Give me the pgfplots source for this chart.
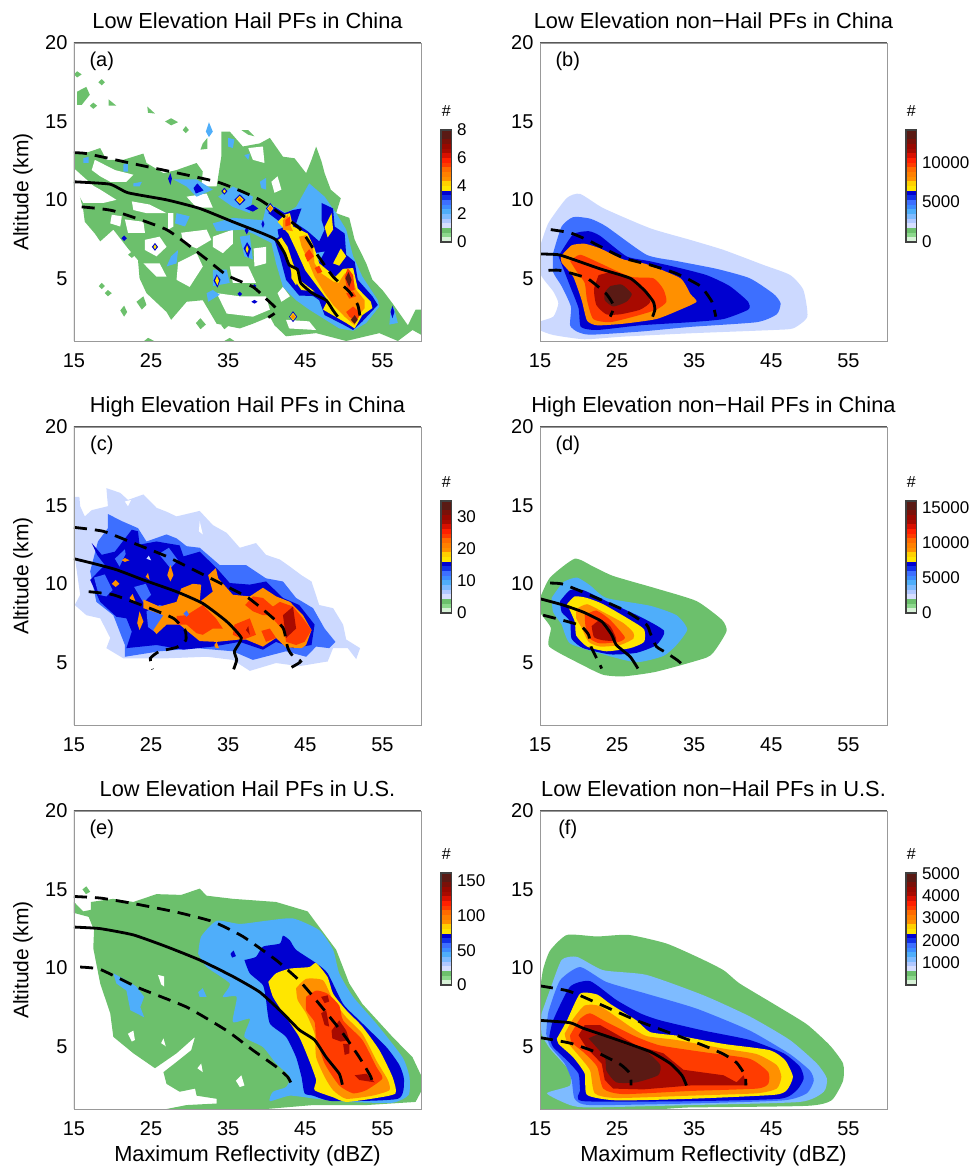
\documentclass[border=0pt]{standalone}
\usepackage{pgfplots}
\pgfplotsset{compat=1.18}
\usepackage{fontspec}
\setmainfont{Liberation Sans}
\definecolor{lgreen}{HTML}{6CC06C}
\definecolor{lpale}{HTML}{CCD9FF}
\definecolor{lsky}{HTML}{4FAEFA}
\definecolor{lsky2}{HTML}{7EBBFF}
\definecolor{lroyal}{HTML}{3D6FFF}
\definecolor{ldark}{HTML}{0000D0}
\definecolor{lyellow}{HTML}{FFE600}
\definecolor{lorange}{HTML}{FF9000}
\definecolor{lred}{HTML}{FF3C00}
\definecolor{ldred}{HTML}{A80A00}
\definecolor{lbrown}{HTML}{5A1A14}
\definecolor{cb1}{HTML}{D8F2D8}\definecolor{cb2}{HTML}{8CD88C}\definecolor{cb3}{HTML}{6CC06C}
\definecolor{cb4}{HTML}{D6DEFF}\definecolor{cb5}{HTML}{B0C8FF}\definecolor{cb6}{HTML}{7EBBFF}
\definecolor{cb7}{HTML}{4FAEFA}\definecolor{cb8}{HTML}{3D8CFF}\definecolor{cb9}{HTML}{3D6FFF}
\definecolor{cb10}{HTML}{1030E8}\definecolor{cb11}{HTML}{0000D0}\definecolor{cb12}{HTML}{FFE600}
\definecolor{cb13}{HTML}{FFD000}\definecolor{cb14}{HTML}{FF9000}\definecolor{cb15}{HTML}{FF8000}
\definecolor{cb16}{HTML}{FF6A00}\definecolor{cb17}{HTML}{FF3C00}\definecolor{cb18}{HTML}{FF2000}
\definecolor{cb19}{HTML}{D81000}\definecolor{cb20}{HTML}{A80A00}\definecolor{cb21}{HTML}{980800}
\definecolor{cb22}{HTML}{7A1008}\definecolor{cb23}{HTML}{5A1A14}\definecolor{cb24}{HTML}{5A1A14}
\newcommand\poly[2]{\addplot[fill=#1,draw=none,forget plot] coordinates {#2};}
\newcommand\spoly[2]{\addplot[fill=#1,draw=none,smooth,tension=0.35,forget plot] coordinates {#2};}
\newcommand\msolid[1]{\addplot[black,line width=2.8pt,smooth,tension=0.3,forget plot] coordinates {#1};}
\newcommand\mdash[1]{\addplot[black,line width=2.8pt,smooth,tension=0.3,dash pattern=on 13pt off 8pt,forget plot] coordinates {#1};}
\newcommand\frameit[1]{\draw[line width=1.6pt,draw=black!65] (rel axis cs:0,0)--(rel axis cs:0,1)--(rel axis cs:1,1);
  \node[font=\fontsize{20}{20}\selectfont,anchor=center] at (rel axis cs:0.08,0.94) {(#1)};}
\pgfplotsset{
  panel/.style={scale only axis,width=347pt,height=298pt,xmin=15,xmax=60,ymin=1,ymax=20,
    xtick={15,25,35,45,55},ytick={5,10,15,20},major tick length=0pt,axis on top,
    axis line style={draw=black!40,line width=0.8pt},
    /pgf/number format/assume math mode=true,
    tick label style={font=\fontsize{20}{20}\selectfont},
    xticklabel style={yshift=-9pt},yticklabel style={xshift=-3pt},
    title style={at={(0.5,1)},anchor=base,yshift=8.5pt,font=\fontsize{21.8}{22}\selectfont},
    ylabel style={at={(axis description cs:-0.147,0.5)},anchor=center,font=\fontsize{21}{21}\selectfont},
    xlabel style={at={(axis description cs:0.5,-0.158)},anchor=center,font=\fontsize{21.8}{22}\selectfont}},
  cbar/.style={scale only axis,width=10.5pt,height=112pt,xmin=0,xmax=1,ymin=0,xtick=\empty,
    yticklabel pos=right,major tick length=0pt,axis on top,scaled y ticks=false,
    axis line style={draw=black!75,line width=1.3pt},
    /pgf/number format/assume math mode=true,/pgf/number format/1000 sep={},
    tick label style={font=\fontsize{17}{17}\selectfont},yticklabel style={xshift=2pt},
    title style={at={(0.5,1)},anchor=center,yshift=13pt,font=\fontsize{16}{16}\selectfont},title={\#}}}
\newcommand\cbstripes[1]{\pgfplotsinvokeforeach{1,...,24}{\addplot[fill=cb##1,draw=none,forget plot] coordinates {(0,{(##1-1)*#1/24}) (1,{(##1-1)*#1/24}) (1,{##1*#1/24}) (0,{##1*#1/24})} --cycle;}}
\begin{document}
\begin{tikzpicture}
\useasboundingbox (0,0) rectangle (973pt,1167pt);
% ---------------- (a)
\begin{axis}[panel,at={(74pt,826pt)},title={Low Elevation Hail PFs in China},ylabel={Altitude (km)}]
\poly{lgreen}{(15,13.0)(16.6,13.0)(18.4,13.3)(19.2,12.55)(21.4,12.55)(24,12.95)(24.4,12.35)(26.6,11.7)(28.3,11.9)(30.9,12.35)(31.7,11.8)(31.5,10.85)(33.5,10.85)(34.1,12.75)(34.1,14.35)(35.2,14.35)(36.9,13.4)(39.1,13.6)(40.4,13.95)(42.1,12.75)(43.6,12.65)(45.1,11.7)(45.8,12.55)(46.4,13.4)(47.1,12.45)(47.5,11.7)(48.3,10.65)(49.6,10.1)(49,9.15)(50.7,8.85)(51.4,7.45)(52.9,5.95)(53.7,4.9)(55,4.25)(56.3,3.4)(58.3,2)(59.3,3)(60,3)(60,1.4)(58.9,1.7)(57,1)(54.6,1.5)(50.3,1)(46.4,1.5)(42.5,1.3)(41,2)(40.4,2.55)(38.2,2.1)(36.5,1.8)(33.5,2.1)(31.7,3.6)(29.6,3.5)(27.6,2.35)(27,2.85)(24.4,4.05)(23.5,5)(23.3,6.15)(22,6.9)(20.1,8.1)(18.4,7.35)(17.7,7.85)(16.4,8.6)(16.2,9.35)(15.6,10.55)(15,10.85)}
\poly{lgreen}{(15.4,16.9)(16.6,17.2)(17.05,16.7)(16.0,16.05)(15.4,16.05)}
\poly{lgreen}{(15,18)(15.4,18.2)(16,18)(15.4,17.8)}
\poly{lgreen}{(18.15,17.5)(18.6,17.7)(19,17.5)(18.6,17.3)}
\poly{lgreen}{(17.05,16)(17.5,16.2)(18,16)(17.5,15.8)}
\poly{lgreen}{(19.5,16.4)(20.5,16)(19.5,16)}
\poly{lgreen}{(24.5,15.95)(25.5,15.5)(24.6,15.55)}
\poly{lgreen}{(26.8,15)(27.6,15.2)(28.5,14.95)(27.6,14.75)}
\poly{lgreen}{(29.1,14.45)(29.5,14.7)(29.9,14.45)(29.5,14.25)}
\poly{lgreen}{(31.7,13.6)(32.3,13.95)(32.3,13.25)(31.4,13.2)}
\poly{lgreen}{(36.7,14.45)(37.6,14.45)(38.4,14.05)(37.6,14.15)}
\poly{lgreen}{(30.8,2.15)(31.4,2.45)(32.1,2.05)(31.4,1.75)}
\poly{lgreen}{(34.1,2)(34.5,2.25)(35,1.95)(34.5,1.75)}
\poly{lgreen}{(21,2.95)(21.5,3.25)(21.9,2.85)(21.5,2.55)}
\poly{lgreen}{(23.1,3.5)(24,3.85)(24.4,3.3)(23.8,3)}
\poly{lgreen}{(22,6.5)(22.5,6.7)(23,6.5)(22.5,6.3)}
\poly{lgreen}{(18.2,4.5)(18.6,4.7)(19,4.5)(18.6,4.3)}
\poly{lgreen}{(19,4.05)(19.4,4.25)(19.9,4.05)(19.4,3.85)}
\poly{lgreen}{(24.1,1)(24.6,1.2)(25.4,1)}
\poly{lgreen}{(34.5,1)(35.2,1.2)(35.8,1)}
% holes in the lowest level
\poly{white}{(17.7,12.55)(20.3,11.9)(22.7,11.6)(21.8,11.15)(19.7,11.15)(18.4,11.5)(17.3,11.9)}
\poly{white}{(15,12)(17.5,10.9)(18.4,10.65)(20.5,10)(18.8,9.8)(16.2,9.8)(15,10.85)}
\poly{white}{(22.5,9.9)(24.8,9.7)(27,9.15)(24.4,9.15)(22.7,9.35)}
\poly{white}{(27.2,9.15)(27.9,9.15)(27.9,8.3)(27.2,8.1)}
\poly{white}{(29.6,10.2)(32.2,10.4)(33,9.5)(30.9,9.5)}
\poly{white}{(19.9,9.05)(21.2,8.95)(21,8.3)(19.7,8.5)}
\poly{white}{(21.6,8.75)(24,8.6)(24.2,7.9)(22,7.9)}
\poly{white}{(24.2,7.45)(26.1,7.65)(27,7)(25.7,6.4)(24.2,6.8)}
\poly{white}{(28.9,7.9)(32.2,8.1)(32.8,7.45)(30.9,6.9)(29.2,7.25)}
\poly{white}{(24,5.95)(26.1,5.95)(27,5.1)(25.7,5.1)}
\poly{white}{(28.5,6)(30.9,6.6)(31.7,5.75)(30,4.45)(28.3,4.9)}
\poly{white}{(33,7.65)(35.6,8.1)(35.6,7.2)(34.3,6.6)(33,7)}
\poly{white}{(35.2,5.75)(37.6,5.75)(38.6,4.7)(35.6,4.7)}
\poly{white}{(33.5,4.05)(36.5,3.85)(39.9,3.85)(40.4,3)(38.2,2.55)(34.8,2.75)}
\poly{white}{(38.3,6.9)(39.9,7)(39.9,5.95)(38.4,5.75)}
\poly{white}{(42.1,4.45)(43,3.85)(41.9,3.5)(41.4,4.05)}
\poly{white}{(40.6,11.15)(41.4,11.5)(41.9,10.65)(41,10.45)}
\poly{white}{(45.3,9.45)(45.8,9.75)(46.1,9.15)(45.5,8.95)}
\poly{white}{(37.6,13.3)(39.5,13.4)(39.7,12.35)(38.2,12.55)}
\poly{white}{(42.5,2.35)(45.5,2.25)(46.4,1.7)(42.9,1.8)}
% second level
\poly{lsky}{(40.6,9.7)(42.5,9.15)(43.8,9.55)(45.5,11.05)(47.5,10.2)(49,9.15)(50.3,8.1)(51.2,6.4)(52.4,5.1)(54.4,3.6)(54.6,3.2)(52.9,2.15)(51.2,1.65)(49.4,1.8)(47.3,2.45)(45.5,3)(43.8,3.6)(42.1,4.45)(41.2,5.95)(40.6,7.25)(38.2,7.85)(36.9,8.1)(33.5,8)(33,8.5)(35.6,8.85)(39.5,8.7)(39.9,9.55)}
\poly{lsky}{(28.3,9.15)(30,8.95)(29.4,8.3)(28.1,8.5)}
\poly{lsky}{(27.6,6.4)(28.5,6.8)(28.3,5.95)(27,5.75)}
\poly{lsky}{(35,13.95)(35.8,13.85)(35.6,13.3)(35,13.4)}
\poly{lsky}{(37.1,12.85)(37.8,12.95)(37.6,12.55)}
\poly{lsky}{(16.2,12.65)(16.9,12.75)(16.9,12.35)(16.2,12.35)}
\poly{lsky}{(21.4,12.25)(22,12.35)(22,11.8)(21.4,11.8)}
\poly{lsky}{(22.7,11.05)(23.8,11.15)(23.5,10.85)(22.7,10.85)}
\poly{lsky}{(27.9,11.3)(30.9,11.3)(33,10.65)(30.9,10.2)(29.6,10.85)}
\poly{lsky}{(33.7,10.2)(35.6,10.85)(38.2,10.2)(37.8,9.15)(35.6,9.55)}
\poly{lsky}{(32.2,4.05)(33,4.25)(33.9,3.95)(32.4,3.5)}
\poly{lsky}{(33,5.55)(34.8,5.55)(35.2,4.7)(33,4.5)}
\poly{lsky}{(56.1,3.1)(56.5,3.1)(57,2.15)(55.9,2.05)}
\poly{lsky}{(36.5,7.65)(37.8,7.75)(38.2,6.2)(37.1,6.4)}
\poly{lsky}{(39.1,11.15)(39.9,11.4)(39.9,10.65)(39.3,10.75)}
\poly{lsky}{(32.1,14.35)(32.5,14.95)(33,14.35)(32.5,14)}
% third level
\poly{ldark}{(40.2,9.15)(41,9.55)(42.3,9.15)(43.4,9.35)(44.5,9.45)(43.8,8.5)(45.3,8)(46.8,7.35)(47.5,8.1)(47.1,8.7)(47.1,9.8)(48.6,9.45)(48.8,8.3)(50.1,7.85)(50.3,6.5)(51.4,6.05)(51.8,4.9)(53.7,3.85)(54.4,3.3)(52.4,2.25)(51.2,1.7)(49.9,2.05)(47.5,2.65)(46.8,3.6)(44.9,4.25)(43.4,4.9)(42.5,5.75)(41.7,7.25)(41.4,8.1)(42.5,8.3)}
\poly{ldark}{(41,7.45)(42.3,7.85)(43.6,6.15)(45.1,4.25)(46.8,3.85)(44.2,3.9)(42.5,4.9)(41.7,6.4)}
\poly{lsky}{(46.2,6.6)(47.5,6.7)(46.8,6.05)}
\poly{ldark}{(35.8,10)(36.5,10.35)(37.25,10)(36.5,9.65)}
\poly{ldark}{(39.9,9.45)(40.45,9.8)(41,9.45)(40.45,9.1)}
\poly{ldark}{(42.9,2.55)(43.4,2.9)(43.95,2.55)(43.4,2.2)}
\poly{ldark}{(34.1,10.55)(34.5,10.77)(34.9,10.55)(34.5,10.33)}
\poly{ldark}{(25.1,7)(25.5,7.25)(25.9,7)(25.5,6.75)}
\poly{ldark}{(33.1,4.85)(33.5,5.25)(34,4.9)(33.6,4.4)}
\poly{ldark}{(37,6.9)(37.45,7.3)(37.95,6.9)(37.6,6.3)}
\poly{ldark}{(27.2,11.35)(27.5,11.7)(27.7,11.35)(27.5,10.95)}
\poly{ldark}{(21.15,7.55)(21.5,7.73)(21.85,7.55)(21.5,7.37)}
\poly{ldark}{(30.5,10.75)(31,11.05)(31.8,10.6)(30.8,10.4)}
\poly{ldark}{(37.2,9.45)(38.2,9.7)(38.9,9.45)(38.2,9.25)}
\poly{ldark}{(39.3,8.45)(39.5,8.7)(39.7,8.45)(39.5,8.2)}
\poly{ldark}{(36.2,4)(36.5,4.15)(36.8,4)(36.5,3.85)}
\poly{ldark}{(38,3.5)(38.4,3.62)(38.8,3.5)(38.4,3.38)}
\poly{ldark}{(38.15,4.5)(38.4,4.62)(38.65,4.5)(38.4,4.38)}
\poly{ldark}{(56.05,2.85)(56.3,3.25)(56.55,2.85)(56.3,2.45)}
\poly{ldark}{(37.15,8.05)(37.4,8.3)(37.65,8.05)(37.4,7.8)}
% fourth level and above
\poly{lyellow}{(41.4,8.6)(42.3,9.05)(43,9.15)(43.4,8.3)(45.3,7.85)(46.2,6.9)(46.8,5.95)(48.9,5.1)(49.9,5.6)(51.2,5.65)(51.8,4.35)(53.5,3.5)(53.7,3.1)(52.4,2.65)(51.4,1.8)(50.3,2.15)(47.3,3)(47.9,3.6)(46.6,4.45)(45,5.5)(43.8,6.8)(42.8,7.85)}
\poly{lyellow}{(41.2,7.35)(41.9,7.6)(42.7,7)(43.4,5.95)(44.5,4.8)(46.2,4.15)(44.5,4.25)(43.4,5)(43,5.75)(42.3,6.6)}
\poly{lyellow}{(47.5,8.25)(48.4,9.15)(48.6,8.1)(47.9,7.6)}
\poly{lyellow}{(48.6,5.95)(49.6,6.9)(50.3,6.4)(49.4,5.8)}
\poly{lyellow}{(43.2,5.55)(43.6,5.65)(44.2,5.1)(43.8,4.55)(43.2,5)}
\poly{lyellow}{(36,10)(36.5,10.25)(37,10)(36.5,9.75)}
\poly{lyellow}{(40.05,9.45)(40.45,9.7)(40.85,9.45)(40.45,9.2)}
\poly{lyellow}{(43,2.55)(43.4,2.8)(43.8,2.55)(43.4,2.3)}
\poly{lyellow}{(34.3,10.55)(34.5,10.67)(34.7,10.55)(34.5,10.43)}
\poly{lyellow}{(25.3,7)(25.5,7.15)(25.7,7)(25.5,6.85)}
\poly{lyellow}{(33.3,4.85)(33.55,5.15)(33.8,4.85)(33.6,4.55)}
\poly{lyellow}{(37.25,6.85)(37.45,7.1)(37.65,6.85)(37.45,6.6)}
\poly{lorange}{(36.2,10)(36.5,10.17)(36.8,10)(36.5,9.83)}
\poly{lorange}{(40.15,9.45)(40.45,9.62)(40.75,9.45)(40.45,9.28)}
\poly{lorange}{(43.1,2.55)(43.4,2.72)(43.7,2.55)(43.4,2.38)}
\poly{lorange}{(42.1,8.7)(42.7,9.05)(43.1,8.3)(43.4,8)(42.1,8.1)}
\poly{lorange}{(44.2,7.65)(45.1,7.75)(46,6.9)(46.2,5.95)(47.1,5.3)(48.6,4.8)(49.3,4.7)(50.1,5.3)(50.9,5.4)(51.6,4.25)(52.7,3.6)(52.7,3.1)(51.8,2.55)(51.4,2)(50.1,2.55)(48.6,3.3)(47.5,4.05)(46.2,5.1)(45.1,6.4)(44.5,7.05)}
\poly{lred}{(44.9,6.5)(45.5,6.85)(46.1,6.4)(45.3,6.05)}
\poly{lred}{(50.1,5.1)(50.5,5.65)(51.2,5.2)(51.4,4.25)(50.5,4.15)}
\poly{lred}{(50.3,2.85)(51.2,3.2)(52.2,2.75)(51.6,2.25)(50.7,2.55)}
\poly{lred}{(50.3,4.05)(51.2,4.15)(51.6,3.85)(50.7,3.7)}
\poly{lred}{(46.2,5.65)(46.8,5.8)(47.2,5.4)(46.6,5.3)}
\poly{lred}{(42.4,8.7)(43,8.95)(43.1,8.4)(42.4,8.3)}
\poly{lbrown}{(50.2,5)(50.6,5.4)(51,4.9)(50.7,4.45)}
\poly{lbrown}{(50.9,2.35)(51.4,2.65)(51.8,2.35)(51.4,2.1)}
\msolid{(15,11.15)(19.65,11)(22,10.45)(27,10)(31.3,9.45)(35.6,8.6)(39.5,7.85)(41.2,7.45)(42.3,6.6)(42.9,5.85)(44,5.55)(44.4,4.7)(45.9,4.05)(47.7,3.6)(48.6,2.95)(49.2,2.55)}
\mdash{(15,13)(16.6,12.95)(22.7,12.3)(33.5,11.15)(39.1,10)(44.2,8.2)(46.4,6.6)(48.6,5.1)(50.7,4.15)(51.8,3.3)(52.1,2.55)}
\mdash{(16,9.55)(20.1,9.3)(27,8.1)(31.7,6.4)(34.8,5.2)(38.2,4.45)(39.9,3.7)(41.4,2.95)(40.2,2.5)}
\frameit{a}
\end{axis}
% ---------------- (b)
\begin{axis}[panel,at={(540pt,826pt)},title={Low Elevation non−Hail PFs in China}]
\spoly{lpale}{(15,7.02)(16.08,8.51)(18.46,10.11)(20.19,10.38)(23.21,9.47)(29.27,8.19)(34.46,7.45)(38.78,6.81)(43.97,5.85)(47.43,5.21)(49.15,4.26)(49.67,2.55)(47.86,1.81)(45.26,1.7)(34.46,1.49)(25.81,1.28)(20.76,1.11)(16.73,1.38)(15,1.7)(15,2.23)(16.73,2.55)(17.38,3.4)(16.73,4.15)(15,5.32)(15,7.02)}
\spoly{lroyal}{(16.7,6.6)(17.8,8.3)(19.3,8.9)(21.5,8.8)(23.6,8.3)(28.8,6.5)(32.7,6.1)(37.9,5.6)(42.2,5)(45.3,4)(46.2,3.4)(45.7,2.7)(43.1,2.2)(34.5,1.9)(28,1.6)(21.5,1.4)(19.8,1.6)(18.9,2)(19,3.2)(17.8,4.5)(16.7,5.4)(16.7,6.6)}
\spoly{ldark}{(17.4,6.4)(19.3,7.8)(21.3,8)(22.8,7.7)(26.2,6.4)(29.1,6.1)(32.7,5.7)(36.6,5.2)(39.6,4.5)(42,3.5)(42,3)(38.8,2.4)(34.5,2.2)(28,2)(22.4,1.7)(20.3,1.9)(20,3.1)(18.9,4.5)(17.4,6.4)}
\spoly{lorange}{(17.7,6.4)(19.1,7.1)(20.8,7.2)(22.8,6.9)(25.8,6.2)(28.8,5.9)(33.2,5)(34.5,4)(35.3,3.5)(33.2,3)(30.1,2.4)(25.8,2.1)(22.4,2)(21.1,2.3)(20.4,3.6)(19.3,5.1)(17.8,6)(17.7,6.4)}
\spoly{lred}{(18.9,6.1)(20.2,6.5)(22.6,6)(26.7,5.1)(29.7,5)(31,4.3)(31.4,3.5)(30.1,3)(27.5,2.6)(24.1,2.2)(21.9,2.4)(21.1,3.6)(20.8,4.7)(19.8,5.4)(18.9,6.1)}
\spoly{ldred}{(22.6,5.2)(24.5,5.4)(26.7,5)(28.4,4.3)(29.3,3.5)(28,3)(25.4,2.7)(23.6,2.7)(22.3,3.3)(22,4.3)(22.6,5.2)}
\spoly{lbrown}{(24.1,4.5)(25.6,4.6)(26.9,4)(26.2,3.5)(24.5,3.2)(23.4,3.6)(23.4,4.1)(24.1,4.5)}
\msolid{(15,6.55)(17.4,6.5)(19.3,6.2)(22.8,5.6)(26.7,5)(28.6,4.2)(29.7,3.5)(29.9,3)(29.6,2.55)}
\mdash{(16.4,8.1)(18.9,7.9)(21.1,7.45)(25.8,6.3)(29.3,5.85)(32.7,5.3)(35.8,4.5)(37.3,3.5)(37.8,2.55)}
\mdash{(16.1,5.5)(17.6,5.5)(21.1,5)(23.6,4)(24.6,3.2)(24.1,2.55)}
\frameit{b}
\end{axis}
% ---------------- (c)
\begin{axis}[panel,at={(74pt,442pt)},title={High Elevation Hail PFs in China},ylabel={Altitude (km)}]
\poly{lpale}{(15,15.55)(15.7,15.55)(15.8,14.95)(16.4,14.3)(17.3,14.7)(19.4,14.95)(19.2,16.1)(21,15.8)(22,15.35)(24,15.7)(25.7,14.85)(27,14.6)(28.3,14.3)(31.3,14.65)(33,13.75)(34.8,13.25)(36.5,12.3)(38.6,12.6)(39.9,11.85)(41.7,11.55)(43,11.1)(44.5,10.55)(45.8,10.15)(46.8,8.65)(48.6,8.45)(49.9,7.4)(50.3,6.45)(52.1,5.9)(51.6,5.2)(50.5,5.9)(48.6,5.9)(47.9,5.05)(44.2,4.75)(41.2,4.95)(37.8,4.45)(35.6,5.15)(32.2,5.35)(27,5.25)(21.4,5.25)(19.2,5.9)(19.7,6.55)(18.4,7.8)(16.6,8)(15.1,8.65)(15.8,9.3)(15,12.05)}
\poly{white}{(21.6,15.25)(22.4,15.35)(22,14.95)}
\poly{white}{(31.3,14)(31.7,13.15)(31.2,13.35)}
\poly{lroyal}{(19.4,14.45)(21.2,14)(23.3,13.55)(24.4,12.7)(27,13.15)(28.3,12.9)(29.6,12.4)(31.3,12.3)(33.9,11.2)(37.3,11.2)(39.9,10.35)(42.1,10.15)(43.8,9.1)(46,8.45)(47.5,7.15)(48.9,6.3)(48.1,5.9)(46.4,6)(45.1,5.35)(42.5,5.7)(38.2,5.15)(35.6,5.7)(30.9,5.9)(26.1,5.7)(21.6,5.35)(21.6,6.1)(20.1,8)(17.9,8.85)(17.1,10.8)(18.1,12.7)(19.4,13.55)}
\poly{ldark}{(17.3,12.6)(18.6,11.85)(20.3,12.05)(22.5,13.45)(23.3,13.35)(23.5,12.5)(25.7,12.7)(28.7,12.45)(29.2,11.75)(31.3,12.05)(33.5,11)(35.2,10.05)(37.8,9.95)(39.9,10.15)(42.1,9.1)(44.2,8.65)(46.2,7.4)(45.8,6.1)(43.4,5.9)(41.2,6.3)(39.5,5.8)(36.5,6.3)(33,6)(29.2,5.8)(25.7,6.1)(21.8,5.9)(22.5,6.95)(21.8,7.8)(20.5,7.9)(18.4,8.85)(17.1,10.25)(19,11.2)(18,11.85)}
\poly{lroyal}{(24.4,8.25)(26.1,8.65)(27.4,8.45)(26.6,7.6)(25.7,6.85)(24.6,7.25)}
\poly{lroyal}{(17.6,10.4)(19,10.6)(20,9.6)(19.2,9.2)(18.2,9.3)}
\poly{lroyal}{(20.3,11.6)(21.6,12.2)(21.7,11.9)(20.9,11.1)}
\poly{lroyal}{(26,11.9)(27.3,12.3)(28.5,11.5)(27.5,11)}
\poly{lroyal}{(22.8,9.8)(24.3,10)(25,9.3)(24,8.8)}
\poly{lpale}{(24.4,11.6)(24.7,11.8)(25,11.5)}
\poly{lorange}{(32.4,10.55)(33.4,11)(33.7,10.35)(35.6,9.3)(37.8,9.2)(39.5,9.75)(41.2,9.2)(43,8.85)(44.7,8)(45.8,7.05)(45.1,6.1)(44.5,5.9)(42.5,5.95)(41.2,6.55)(39.5,6)(37.3,6.45)(36.5,6.45)(33.5,6.3)(31.3,6.35)(29.8,6.95)(28.7,7.4)(27,7.4)(25.7,6.8)(25.3,7.05)(26.6,8)(24,8.45)(24,9)(26.1,8.55)(28.3,8.85)(28.9,9.7)(30.4,10)(31.5,9.95)(31.3,8.85)(33,9.5)}
\poly{lorange}{(19.9,10)(20.4,10.25)(20.9,10)(20.4,9.8)}
\poly{lorange}{(27.1,10.55)(27.5,11.2)(27.9,10.55)(27.5,10.15)}
\poly{lorange}{(23.2,7.5)(23.5,8.25)(24,7.6)(23.5,7.05)}
\poly{lorange}{(22.2,9.1)(22.6,9.35)(23,8.85)(22.6,8.85)}
\poly{lorange}{(21.2,11.5)(21.6,11.65)(22.2,11.5)(21.6,11.4)}
\poly{lorange}{(33.2,6.1)(33.5,6.3)(33.8,5.9)(33.4,5.9)}
\poly{lorange}{(24.3,10.45)(24.6,10.7)(24.8,10.25)}
\poly{lred}{(37.2,8.65)(38.2,9.2)(39.5,9.1)(40.8,8.55)(41.7,8.85)(43.4,8.55)(44.7,7.8)(45.8,7.05)(44.9,6.3)(43.8,6.1)(42.5,6.3)(42.3,6.95)(40.4,8)(39.5,8)(38.2,8.25)}
\poly{lred}{(28.3,7.95)(29.6,8)(31.7,8.65)(33.4,7.8)(34.3,7.15)(33,7.15)(31.7,6.75)(30.9,6.85)(29.6,7.4)(28.3,7.4)}
\poly{lred}{(35.8,7.4)(37.8,7.8)(38.6,6.75)(37,6.45)(35.6,6.75)}
\poly{lred}{(39.3,7)(40.4,7.15)(41.2,6.55)(39.9,6.3)}
\poly{ldred}{(42.1,8)(43.4,8.55)(43.8,7.15)(42.5,6.55)}
\poly{ldred}{(37.3,7.05)(37.6,7.3)(37.8,6.75)}
\poly{lroyal}{(29.2,8.1)(29.6,8.3)(29.9,8.05)(29.6,7.9)}
\msolid{(15,11.6)(17.5,11.3)(20.5,10.9)(24,10.25)(28.3,9.5)(31.7,8.75)(34.8,7.6)(36.7,6.55)(35.8,5.7)(36.1,5.15)(35.7,4.55)}
\mdash{(15,13.6)(18.8,13.35)(22.7,12.6)(27,11.75)(31.3,10.7)(37.3,9.2)(39.9,8.2)(42.1,7.2)(42.7,5.95)(43.2,5.5)(44.4,5.05)(43.1,4.65)}
\mdash{(16.9,9.5)(20.1,9.3)(24.8,8.45)(27.9,7.8)(29.4,7.05)(29.5,6.4)(28.3,5.95)(26.1,5.7)(24.9,5.25)(25.2,4.55)}
\frameit{c}
\end{axis}
% ---------------- (d)
\begin{axis}[panel,at={(540pt,442pt)},title={High Elevation non−Hail PFs in China}]
\spoly{lgreen}{(15,9.1)(16.3,10.4)(19.5,11.6)(21.9,11.1)(24.5,10.5)(30.1,9.7)(35.3,8.9)(38.6,7.7)(39.2,7)(37.9,5.9)(36.6,5.3)(30.1,4.4)(25.8,4.1)(23.2,4.2)(20.6,4.8)(16.2,6)(16.4,7.2)(15,8.2)(15,9.1)}
\spoly{lsky}{(16.5,9.1)(18,10.1)(19.8,10.4)(21.5,9.9)(23.6,9.1)(29.3,8.6)(32.7,8)(34.1,7.1)(32.7,6.1)(31,5.4)(27.5,5)(23.2,5.5)(18.9,6.2)(17.8,7.4)(16.7,8.2)(16.5,9.1)}
\spoly{ldark}{(17.6,8.9)(18.9,9.6)(20.6,9.6)(23.6,8.9)(28,7.9)(31.1,7)(30.1,6.1)(27.5,5.6)(24.1,5.5)(20.6,5.9)(19.1,6.5)(18.9,7.6)(17.8,8.2)(17.6,8.9)}
\spoly{lyellow}{(18.5,8.7)(19.5,9.2)(21.1,9.1)(23.2,8.7)(26.7,7.7)(28.5,7.1)(28.5,6.3)(26.7,5.9)(23.6,5.7)(21.1,6)(19.7,6.7)(19.5,7.6)(18.5,8.7)}
\spoly{lorange}{(19.7,8.4)(21.1,8.7)(23.2,8.2)(25.8,7.5)(27.1,6.9)(27.1,6.5)(25.4,6.1)(22.8,6)(21.3,6.3)(20.4,7.2)(19.7,7.8)(19.7,8.4)}
\spoly{lred}{(20.8,8)(22.3,8.3)(24.1,7.7)(26,6.6)(25.2,6.3)(22.8,6.2)(21.5,6.5)(20.9,7.3)(20.8,8)}
\spoly{ldred}{(21.7,7.3)(22.8,7.7)(24.1,7.3)(24.9,6.4)(23.2,6.4)(22,6.6)(21.7,7.3)}
\msolid{(15,9.05)(18,8.65)(20.6,8.2)(23,7.6)(24.3,6.75)(24.9,6.1)(26.7,5.35)(27.7,4.6)}
\mdash{(16.3,10.05)(17.8,10)(20.2,9.55)(25.8,8.35)(28.8,7.4)(29.3,6.85)(30.1,6)(31.4,5.6)(32.9,5.1)(34,4.6)}
\mdash{(15.4,8)(17,7.8)(20.2,7.35)(21.3,6.75)(21.6,6)(22.4,5.2)(23,4.6)}
\frameit{d}
\end{axis}
% ---------------- (e)
\begin{axis}[panel,at={(74pt,58pt)},title={Low Elevation Hail PFs in U.S.},ylabel={Altitude (km)},xlabel={Maximum Reflectivity (dBZ)}]
\poly{lgreen}{(15,14.2)(16.2,13.6)(17.2,13.7)(17.2,14.2)(20.1,14.4)(22.7,14.2)(25.7,14.7)(28.9,14.65)(31.3,15.05)(32.2,14.6)(35.6,14.4)(41.2,14.2)(45.3,13.6)(49,11.15)(50.7,9)(52.4,7.7)(56.3,5.6)(58.9,4.3)(60,3.15)(60,2.1)(59.3,1.45)(52.9,1.25)(46,1.25)(39.9,1)(27,1)(29.6,1.25)(33.5,1.35)(33.5,1.65)(30.9,1.85)(30.7,2.3)(28.7,2.1)(27,2.6)(26.6,3.35)(28.3,4)(30.2,4.75)(30.7,5.6)(28.3,4.55)(25.5,3.6)(22.7,4.55)(20.1,5.6)(19.7,7.1)(18.4,9)(17.5,11.25)(17.6,12.4)(16.9,13.25)(15,13.5)}
\poly{lgreen}{(16.1,15)(16.6,15.2)(17.1,14.85)(16.55,14.7)}
\poly{white}{(25.9,9.55)(26.7,9.45)(26.7,8.8)(26.3,8.95)}
\poly{white}{(22,5.8)(22.7,6)(22.9,5.4)(22.5,5.3)}
\poly{white}{(26.3,5.2)(26.6,5.5)(26.9,5)}
\poly{white}{(36,2.8)(36.7,3.15)(37.1,2.5)(36.5,2.4)}
\poly{white}{(31,3.6)(31.5,3.9)(31.7,3.35)}
\spoly{lsky}{(31.1,10.9)(31.5,12)(33.5,13)(36.5,12.8)(39.9,13)(43.4,13.15)(46.8,12.4)(48.6,11.15)(49.4,9.65)(51.2,8.15)(54.2,6.45)(57.6,4.3)(58.5,3.05)(58.4,1.9)(56.3,1.4)(50.7,1.45)(46.4,1.65)(43,1.85)(40.4,1.5)(40.8,2.1)(42.5,2.4)(43,3.05)(41.2,3.9)(39.5,4.95)(37.1,5.6)(37.8,6.75)(35.6,6.55)(36.1,8.15)(34.3,8.15)(35.2,9)(32.2,10.05)(31.1,10.9)}
\poly{lsky}{(20.1,9.65)(21.8,9.2)(23.1,8.8)(24.1,8.15)(23.6,7.5)(24.1,6.85)(22.3,7.3)(21.8,8.55)(20.5,9)}
\poly{lsky}{(31.1,8.45)(31.7,8.7)(32.2,8.15)(31.3,8.15)}
\poly{ldark}{(35.3,10.9)(35.7,11.1)(36,10.75)(35.5,10.65)}
\spoly{ldark}{(37.1,10.5)(38.6,10.7)(39.5,11.35)(41.7,11.55)(42.1,12.05)(43,11.75)(43.8,11.15)(46.4,10.3)(47.9,9.65)(49.9,7.7)(52,6.65)(55.5,4.95)(57.2,3.8)(57.8,2.85)(57,1.65)(48.6,1.5)(46,1.85)(44.9,2)(44.5,3.05)(43.8,4.3)(42.5,5.6)(40.4,6.45)(39.9,7.95)(39.5,8.9)(37.8,9.65)(37.1,10.5)}
\spoly{lyellow}{(40.2,9.1)(41.2,9.65)(43,9.95)(45.5,10.05)(46.4,10.3)(47.9,9.4)(48.6,8.35)(50.3,7.3)(52.4,6.25)(54.6,4.75)(56.3,3.05)(56.7,2)(54.2,1.7)(50.3,1.45)(48.6,1.75)(46.2,2.2)(46.4,2.85)(45.5,4.1)(44.2,5.6)(42.3,7)(40.8,8.15)(40.2,9.1)}
\spoly{lorange}{(43.8,8.7)(45.1,9.3)(47.3,9.2)(48.6,7.95)(50.3,6.85)(52.4,5.8)(54.2,4.1)(55.7,2.85)(55.9,2.2)(53.7,1.85)(50.3,1.65)(48.6,2.2)(47.5,3.05)(46.4,4.3)(46.2,5.8)(45.1,7.1)(44,7.95)(43.8,8.7)}
\spoly{lred}{(45.1,8.15)(46.4,8.55)(47.9,8.35)(49.4,7.6)(49.9,6.65)(52.4,5.4)(54.2,3.7)(55,2.95)(52.9,2.2)(51.2,2)(49.4,2.5)(47.5,3.9)(46.4,5.6)(46.2,6.55)(45.1,7.3)(45.1,8.15)}
\poly{ldred}{(47.05,8.15)(47.9,8.25)(48.1,7.85)(47.5,7.75)}
\poly{ldred}{(47.05,7.1)(47.7,7.3)(48.1,6.25)(47.5,6.35)}
\poly{ldred}{(48.4,6)(49.4,6.65)(50.3,6)(50.7,5.4)(49.6,5.3)(48.5,5.5)}
\poly{ldred}{(49.9,5.15)(50.7,5.15)(50.7,4.55)(50.1,4.45)}
\poly{ldred}{(51.4,3.15)(52.9,3.25)(54,2.7)(52,2.85)}
\msolid{(15,12.6)(18.4,12.5)(22.7,12.1)(27,11.35)(31.3,10.5)(35.6,9.45)(39.1,8.45)(42.1,7.1)(44.2,6.05)(46.2,5.4)(47.7,4.3)(49.4,3.25)(49.8,2.55)}
\mdash{(15,14.55)(18.4,14.45)(22.7,14.1)(28.3,13.55)(33,12.95)(36.9,12)(41.2,10.5)(44.2,9.2)(46.8,7.7)(49.9,5.8)(52,4.3)(53.5,3.05)(53.7,2.55)}
\mdash{(15.8,10.05)(18.4,9.9)(23.5,8.7)(29.6,7.5)(34.8,6)(38.2,4.75)(41.2,3.7)(42.7,3.05)(43.3,2.5)}
\frameit{e}
\end{axis}
% ---------------- (f)
\begin{axis}[panel,at={(540pt,58pt)},title={Low Elevation non−Hail PFs in U.S.},xlabel={Maximum Reflectivity (dBZ)}]
\spoly{lgreen}{(15,8.6)(15.4,9.9)(16.3,11.1)(18.5,12.1)(22.4,12)(26.5,12.1)(31.4,11.55)(35.8,10.6)(38.8,9.85)(40.9,9)(45.3,7.7)(49.6,6.4)(52.6,5.05)(54.3,3.9)(54.3,2.8)(52.8,1.55)(49.6,1.2)(34.5,1.1)(15,1)(15,8.6)}
\spoly{lsky2}{(15.2,7.1)(16.3,8.6)(17.8,10.5)(19.8,10.7)(23.2,9.85)(28.8,9.55)(36.2,8.25)(42.2,6.9)(47.4,5.4)(50.9,3.9)(52.2,2.95)(51.8,2.1)(48.7,1.45)(34.5,1.25)(21.5,1.1)(18.9,1.25)(15.9,2)(18.9,2.5)(18.7,3.5)(16.3,4.85)(15.2,5.8)(15.2,7.1)}
\spoly{lroyal}{(15.8,5.8)(16.1,7.2)(17.6,9.2)(20.2,10.05)(23.6,9.1)(28.8,8.35)(35.3,7.4)(42.2,6)(47.4,4.5)(50,3.45)(50.5,2.8)(49.6,2)(46.6,1.55)(34.5,1.35)(21.5,1.25)(19.5,1.65)(19.1,2.85)(18.2,3.9)(16.3,5)(15.8,5.8)}
\spoly{ldark}{(16.2,5.6)(16.7,6.65)(18.9,8.8)(21.5,9.15)(24.9,7.95)(28,7.1)(30.6,6.65)(36.2,6)(42.2,5.4)(46.6,4.55)(48.7,3.7)(49.2,2.95)(48.3,2.2)(46.1,1.65)(34.5,1.5)(20.6,1.5)(20.2,2.2)(20,3.25)(18.5,4.1)(16.7,4.95)(16.2,5.6)}
\spoly{lyellow}{(17.2,5.5)(18.5,6.65)(20.2,8.35)(22.4,8.3)(24.1,7.7)(27.5,6.65)(29.3,5.9)(33.2,5.65)(38.8,5.15)(44.8,4.75)(46.8,4.1)(47.8,3.05)(47,2.2)(45.3,1.9)(34.5,1.65)(24.9,1.55)(21.1,1.9)(20.8,3.25)(19.3,4.3)(17.4,5.15)(17.2,5.5)}
\spoly{lorange}{(18.2,5.8)(19.3,6.75)(20.8,7.6)(22.8,7.55)(26.7,6.25)(28.8,5.65)(32.7,5.4)(38.8,4.85)(43.1,4.5)(45.7,3.8)(46.3,3.05)(45.7,2.3)(43.1,2)(34.5,1.85)(24.9,1.7)(22.1,2)(21.5,3.45)(20.2,4.3)(18.5,5.3)(18.2,5.8)}
\spoly{lred}{(18.9,5.7)(20.2,6.75)(21.5,7.1)(23.6,6.55)(27.5,5.6)(30.6,5.05)(36.6,4.6)(42.2,4.2)(44.6,3.35)(44.6,2.6)(43.1,2.3)(34.5,2.15)(25.8,1.95)(23.2,2.3)(22.4,3.7)(20.8,4.55)(19.1,5.25)(18.9,5.7)}
\poly{ldred}{(20,5.7)(20.8,6.35)(22.8,6.35)(27.5,5.05)(31,4.55)(33.6,3.5)(38.8,3.15)(40.5,2.7)(41.4,3.15)(41.8,2.5)(34.5,2.5)(28.4,2.25)(24.5,2.3)(23.4,2.85)(23,3.9)(21.1,4.85)}
\spoly{lbrown}{(21.3,5.5)(22.8,5.75)(25.8,5.15)(28.8,4.65)(30.6,3.8)(30.3,3.15)(27.5,2.7)(24.9,2.7)(23.6,3.45)(23.4,4.3)(21.3,5.5)}
\msolid{(15,6.65)(18.9,6.5)(20.6,6.15)(24.5,5.5)(29.3,4.65)(31.9,3.9)(33.4,3.15)(34,2.5)}
\mdash{(15,8.85)(18.5,8.55)(20.6,8.15)(27.5,6.65)(32.7,5.7)(36.2,5.05)(38.8,4.5)(40.5,3.95)(41.6,3.15)(41.7,2.5)}
\mdash{(15,5.55)(18.9,5.2)(22.4,4.6)(25.4,3.85)(26.7,3.25)(26.8,2.5)}
\frameit{f}
\end{axis}
% ---------------- colour bars
\begin{axis}[cbar,at={(441pt,925pt)},ymax=8,ytick={0,2,4,6,8}]\cbstripes{8}\end{axis}
\begin{axis}[cbar,at={(906pt,925pt)},ymax=14050,ytick={0,5000,10000}]\cbstripes{14050}\end{axis}
\begin{axis}[cbar,at={(441pt,554pt)},ymax=35,ytick={0,10,20,30}]\cbstripes{35}\end{axis}
\begin{axis}[cbar,at={(906pt,554pt)},ymax=16000,ytick={0,5000,10000,15000}]\cbstripes{16000}\end{axis}
\begin{axis}[cbar,at={(441pt,182pt)},ymax=161,ytick={0,50,100,150}]\cbstripes{161}\end{axis}
\begin{axis}[cbar,at={(906pt,182pt)},ymax=5020,ytick={1000,2000,3000,4000,5000}]\cbstripes{5020}\end{axis}
\end{tikzpicture}
\end{document}
